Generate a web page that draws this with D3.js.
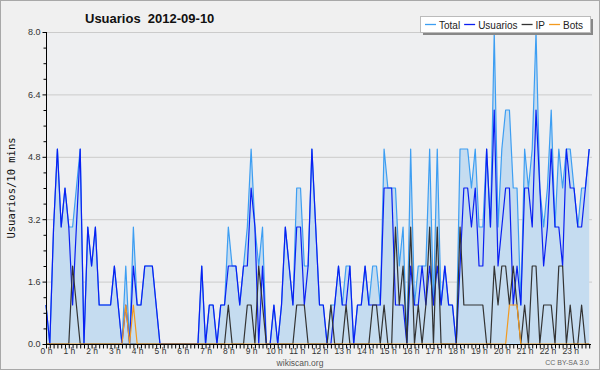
<!DOCTYPE html>
<html><head><meta charset="utf-8">
<script src="https://cdn.jsdelivr.net/npm/d3@7"></script>
<style>body{margin:0;background:#f0f0f0}svg{display:block}</style>
</head><body><svg id="c" width="600" height="370"></svg>
<script>
// 10-minute slots (minutes since midnight)
const slots = d3.range(0, 1440, 10);
const hourTicks = d3.range(0, 24);
const hourLabels = hourTicks.map(h => h + " h");
const yTicks = [0, 1.6, 3.2, 4.8, 6.4, 8.0];
const seriesNames = ["Total", "Usuarios", "IP", "Bots"];

const usuarios = [1,0,3,5,3,4,3,1,3,5, 0,3,2,3,1,1,1,1,2,1, 0,1,0,2,1,1,2,2,2,1,
  0,0,0,0,0,0,0,0,0,0, 0,2,0,1,1,0,1,1,2,2, 2,1,2,2,4,3,0,2,0,0,
  1,0,1,3,2,1,3,3,1,2, 5,3,1,1,0,0,1,2,1,1, 2,0,1,1,2,1,1,1,1,4,
  4,4,1,1,1,0,2,1,1,2, 1,2,1,2,1,2,1,1,0,2, 4,4,3,4,2,2,5,3,6,2,
  3,4,4,1,2,1,4,4,3,6, 4,2,3,5,3,3,2,5,4,4, 3,3,4,5];
const ip = [0,0,0,0,0,0,0,2,1,0, 0,0,0,0,0,0,0,0,0,0, 0,0,0,0,0,0,0,0,0,0,
  0,0,0,0,0,0,0,0,0,0, 0,0,0,0,0,0,0,0,1,0, 0,0,0,1,1,0,2,1,0,0,
  0,0,0,0,0,0,1,1,1,0, 0,0,0,0,0,1,0,0,0,1, 0,0,0,0,0,0,1,1,0,1,
  0,0,3,1,2,0,3,0,1,0, 1,3,0,3,0,0,0,0,0,3, 1,1,1,1,1,1,0,0,2,1,
  2,2,1,2,1,0,1,0,2,2, 0,1,1,1,0,2,2,0,1,0, 0,1,0,0];
const bots = [0,0,0,0,0,0,0,0,0,0, 0,0,0,0,0,0,0,0,0,0, 0,1,0,1,0,0,0,0,0,0,
  0,0,0,0,0,0,0,0,0,0, 0,0,0,0,0,0,0,0,0,0, 0,0,0,0,0,0,0,0,0,0,
  0,0,0,0,0,0,0,0,0,0, 0,0,0,0,0,0,0,0,0,0, 0,0,0,0,0,0,0,0,0,0,
  0,0,0,0,0,0,0,0,0,0, 0,0,0,0,0,0,0,0,0,0, 0,0,0,0,0,0,0,0,0,0,
  0,0,1,1,1,0,0,0,0,0, 0,0,0,0,0,0,0,0,0,0, 0,0,0,0];
const total = [1,0,3,5,3,4,3,3,4,5, 0,3,2,3,1,1,1,1,2,1, 0,2,0,3,1,1,2,2,2,1,
  0,0,0,0,0,0,0,0,0,0, 0,2,0,1,1,0,1,1,3,2, 2,1,2,3,5,3,2,3,0,0,
  1,0,1,3,2,1,4,4,2,2, 5,3,1,1,0,1,1,2,1,2, 2,0,1,1,2,1,2,2,1,5,
  4,4,4,2,3,0,5,1,2,2, 2,5,1,5,1,2,1,1,0,5, 5,5,4,5,3,3,5,3,8,3,
  5,6,6,4,4,1,5,4,5,8, 4,3,4,6,3,5,4,5,5,4, 3,4,4,5];

const colors = {Total:"#3d9ef2", Usuarios:"#0a1ff2", IP:"#333333", Bots:"#f39a1e"};

const svg = d3.select("#c");
const W = 600, H = 370;
const L = 46, R = 593, T = 32, B = 344;

svg.append("rect").attr("x",0.5).attr("y",0.5).attr("width",W-1).attr("height",H-1)
  .attr("fill","#f0f0f0").attr("stroke","#a8a8a8");

const x = d3.scaleLinear().domain([0, 1440]).range([L, R]);
const y = d3.scaleLinear().domain([0, 8]).range([B, T]);

svg.append("rect").attr("x",L).attr("y",T).attr("width",R-L).attr("height",B-T).attr("fill","#eeeff1");

// grid
svg.append("g").selectAll("line").data(yTicks.slice(1)).join("line")
  .attr("x1",L).attr("x2",R-1).attr("y1",d=>y(d)+0.5).attr("y2",d=>y(d)+0.5)
  .attr("stroke","#cbcbcb").attr("stroke-width",1);

const data = slots.map((m,i)=>({m, total:total[i], usuarios:usuarios[i], ip:ip[i], bots:bots[i]}));

svg.append("path").datum(data)
  .attr("d", d3.area().x(d=>x(d.m)).y0(y(0)).y1(d=>y(d.total)))
  .attr("fill","#c5dcf0");

function drawLine(key, color){
  svg.append("path").datum(data)
    .attr("d", d3.line().x(d=>x(d.m)).y(d=>y(d[key])))
    .attr("fill","none").attr("stroke",color).attr("stroke-width",1.2)
    .attr("stroke-linejoin","round");
}
drawLine("total", colors.Total);
drawLine("usuarios", colors.Usuarios);
drawLine("ip", colors.IP);
drawLine("bots", colors.Bots);

// axes
const yAxis = d3.axisLeft(y).tickValues(yTicks).tickFormat(d3.format(".1f")).tickSize(4).tickPadding(2);
const gy = svg.append("g").attr("transform",`translate(${L+0.5},0)`).call(yAxis);
gy.select(".domain").remove();
gy.selectAll("text").attr("font-family","Liberation Sans, Arial, sans-serif").attr("font-size",9).attr("fill","#333");
const yMinor = d3.range(0, 8.01, 0.4).filter(v => !yTicks.some(t => Math.abs(t-v) < 1e-6));
svg.append("g").attr("transform",`translate(${L+0.5},0)`).call(d3.axisLeft(y).tickValues(yMinor).tickFormat("").tickSize(3))
  .select(".domain").remove();
svg.append("line").attr("x1",L+0.5).attr("x2",L+0.5).attr("y1",T).attr("y2",B+1).attr("stroke","#000");

const xAxisMinor = d3.axisBottom(x).tickValues(slots).tickFormat("").tickSize(4);
const gxm = svg.append("g").attr("transform",`translate(0,${B+0.5})`).call(xAxisMinor);
gxm.select(".domain").remove();
svg.append("line").attr("x1",L).attr("x2",R-2).attr("y1",B+0.5).attr("y2",B+0.5).attr("stroke","#000");
const gx = svg.append("g").attr("transform",`translate(0,${B+0.5})`)
  .call(d3.axisBottom(x).tickValues(hourTicks.map(h=>h*60)).tickFormat((d,i)=>hourLabels[i]).tickSize(0).tickPadding(3));
gx.select(".domain").remove();
gx.selectAll("text").attr("font-family","Liberation Sans, Arial, sans-serif").attr("font-size",8.5).attr("fill","#333");
svg.selectAll(".tick line").attr("stroke","#000");

// title
svg.append("text").attr("x",85).attr("y",23).text("Usuarios  2012-09-10")
  .attr("font-family","Liberation Sans, Arial, sans-serif").attr("font-weight","bold").attr("font-size",13)
  .attr("fill","#111").style("white-space","pre");

// y label
svg.append("text").attr("transform","translate(15,188) rotate(-90)").attr("text-anchor","middle")
  .text("Usuarios/10 mins").attr("font-family","DejaVu Sans Mono, monospace").attr("font-size",10.5).attr("fill","#111");

// footer
svg.append("text").attr("x",300).attr("y",366).attr("text-anchor","middle").text("wikiscan.org")
  .attr("font-family","Liberation Sans, Arial, sans-serif").attr("font-size",8.5).attr("fill","#555");
svg.append("text").attr("x",589).attr("y",365).attr("text-anchor","end").text("CC BY-SA 3.0")
  .attr("font-family","Liberation Sans, Arial, sans-serif").attr("font-size",7).attr("fill","#666");

// legend
const lg = svg.append("g");
lg.append("rect").attr("x",423).attr("y",19).attr("width",170).attr("height",16).attr("fill","#888");
lg.append("rect").attr("x",420.5).attr("y",16.5).attr("width",170).attr("height",16).attr("fill","#fff").attr("stroke","#bbb");
let lx = 425;
seriesNames.forEach(name=>{
  lg.append("line").attr("x1",lx).attr("x2",lx+11).attr("y1",24.5).attr("y2",24.5).attr("stroke",colors[name]).attr("stroke-width",1.3);
  const t = lg.append("text").attr("x",lx+14).attr("y",28.5).text(name)
    .attr("font-family","Liberation Sans, Arial, sans-serif").attr("font-size",10).attr("fill","#222");
  lx += 14 + t.node().getComputedTextLength() + 4;
});
</script></body></html>
